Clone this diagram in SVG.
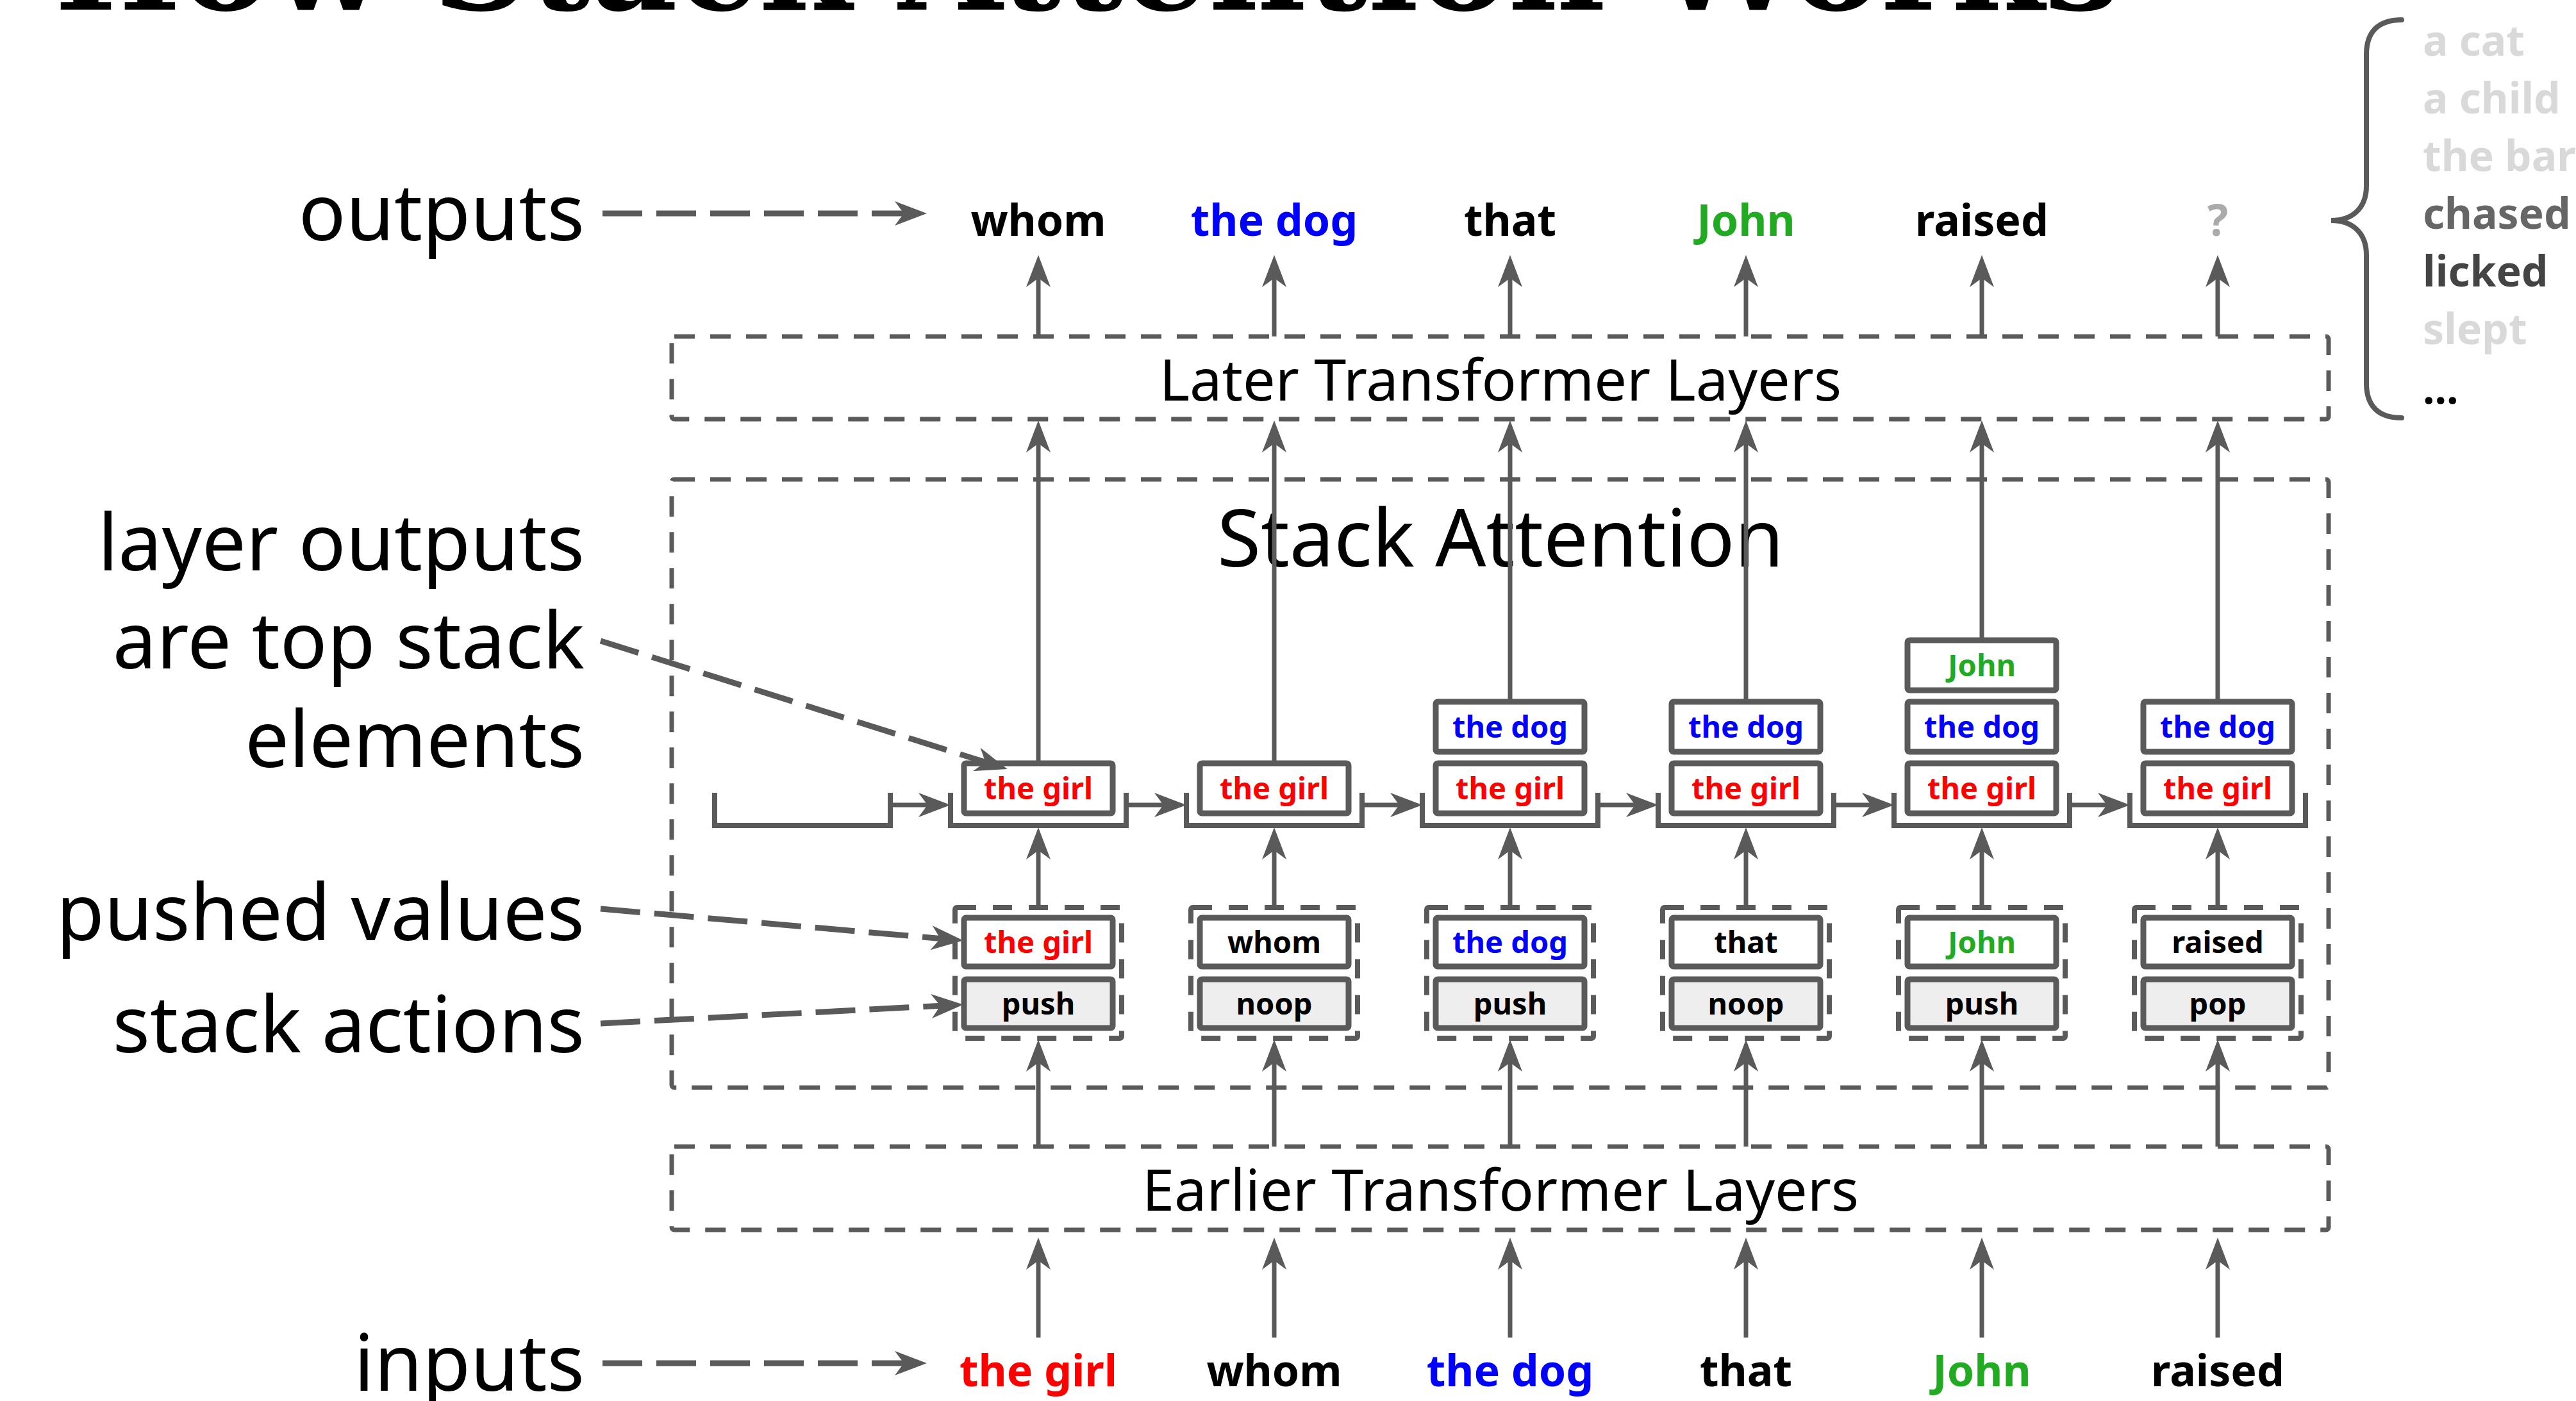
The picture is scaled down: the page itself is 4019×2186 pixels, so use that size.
<svg xmlns="http://www.w3.org/2000/svg" width="4019" height="2186" viewBox="0 0 4019 2186">
<style>
.bg{fill:#fff}
.box{fill:#fff;stroke:#5a5a5a;stroke-width:9}
.act{fill:#eeeeee;stroke:#5a5a5a;stroke-width:9}
.t{font-family:"Noto Sans","DejaVu Sans",sans-serif;font-weight:700;font-size:47px;text-anchor:middle;fill:#000}
.io{font-family:"Noto Sans","DejaVu Sans",sans-serif;font-weight:700;font-size:68px;text-anchor:middle;fill:#000}
.red{fill:#ff0000}.blue{fill:#0000ff}.green{fill:#22aa22}.q{fill:#aaaaaa}
.lbl{font-family:"Noto Sans","DejaVu Sans",sans-serif;font-size:122px;text-anchor:end;fill:#000}
.big{font-family:"Noto Sans","DejaVu Sans",sans-serif;font-size:90px;text-anchor:middle;fill:#000}
.conn{stroke:#5a5a5a;stroke-width:7;fill:none}
.brk{stroke:#5a5a5a;stroke-width:8;fill:none}
.ann{stroke:#5a5a5a;stroke-width:9;fill:none;stroke-dasharray:62 22}
.dbox{fill:none;stroke:#5a5a5a;stroke-width:7;stroke-dasharray:32 24}
.gbox{fill:none;stroke:#5a5a5a;stroke-width:8;stroke-dasharray:30 26}
.alt{font-family:"Noto Sans","DejaVu Sans",sans-serif;font-weight:700;font-size:66px}
</style>
<defs>
<marker id="ah" markerUnits="userSpaceOnUse" viewBox="-25 -25 60 50" markerWidth="60" markerHeight="50" refX="0" refY="0" orient="auto">
<path d="M30,0 L-20,-19 L-6,0 L-20,19 Z" fill="#5a5a5a"/>
</marker>
</defs>
<rect class="bg" x="0" y="0" width="4019" height="2186"/>

<g id="title">
<text x="85" y="15" font-family="'DejaVu Serif',serif" font-weight="900" font-size="200" textLength="3222" lengthAdjust="spacingAndGlyphs" fill="#000">How Stack Attention Works</text>
</g>

<g id="later-layers">
<rect class="dbox" x="1048" y="525" width="2585" height="129" rx="4"/>
<text class="big" x="2341" y="625">Later Transformer Layers</text>
</g>
<g id="stack-attention">
<rect class="dbox" x="1048" y="748" width="2585" height="949" rx="4"/>
<text class="big" x="2341" y="884" style="font-size:124px">Stack Attention</text>
</g>
<g id="earlier-layers">
<rect class="dbox" x="1048" y="1789" width="2585" height="130" rx="4"/>
<text class="big" x="2341" y="1889">Earlier Transformer Layers</text>
</g>

<g id="labels">
<text class="lbl" x="912" y="375">outputs</text>
<text class="lbl" x="912" y="890">layer outputs</text>
<text class="lbl" x="912" y="1043">are top stack</text>
<text class="lbl" x="912" y="1197">elements</text>
<text class="lbl" x="912" y="1467">pushed values</text>
<text class="lbl" x="912" y="1642">stack actions</text>
<text class="lbl" x="912" y="2170">inputs</text>
</g>

<g id="outputs">
<text class="io" x="1620" y="368">whom</text>
<text class="io blue" x="1988" y="368">the dog</text>
<text class="io" x="2356" y="368">that</text>
<text class="io green" x="2724" y="368">John</text>
<text class="io" x="3092" y="368">raised</text>
<text class="io q" x="3460" y="368">?</text>
</g>

<g id="inputs">
<text class="io red" x="1620" y="2163">the girl</text>
<text class="io" x="1988" y="2163">whom</text>
<text class="io blue" x="2356" y="2163">the dog</text>
<text class="io" x="2724" y="2163">that</text>
<text class="io green" x="3092" y="2163">John</text>
<text class="io" x="3460" y="2163">raised</text>
</g>

<g id="alternatives">
<path d="M3747,31 C3710,31 3692,50 3692,85 V290 C3692,325 3670,344 3637,344 C3670,344 3692,363 3692,398 V598 C3692,633 3710,652 3747,652" fill="none" stroke="#5a5a5a" stroke-width="8" stroke-linecap="round"/>
<text class="alt" x="3780" y="87" fill="#d9d9d9">a cat</text>
<text class="alt" x="3780" y="177" fill="#d9d9d9">a child</text>
<text class="alt" x="3780" y="267" fill="#d9d9d9">the barber</text>
<text class="alt" x="3780" y="357" fill="#666666">chased</text>
<text class="alt" x="3780" y="447" fill="#444444">licked</text>
<text class="alt" x="3780" y="537" fill="#d9d9d9">slept</text>
<text class="alt" x="3780" y="630" fill="#000000">...</text>
</g>

<g id="stack0">
<path class="brk" d="M1115,1237 V1288 H1389 V1237"/>
</g>

<g id="stack1">
<path class="brk" d="M1483,1237 V1288 H1757 V1237"/>
<rect class="box" x="1504" y="1191" width="232" height="78" rx="3"/>
<text class="t red" x="1620" y="1247">the girl</text>
</g>
<g id="stack2">
<path class="brk" d="M1851,1237 V1288 H2125 V1237"/>
<rect class="box" x="1872" y="1191" width="232" height="78" rx="3"/>
<text class="t red" x="1988" y="1247">the girl</text>
</g>
<g id="stack3">
<path class="brk" d="M2219,1237 V1288 H2493 V1237"/>
<rect class="box" x="2240" y="1095" width="232" height="78" rx="3"/>
<text class="t blue" x="2356" y="1151">the dog</text>
<rect class="box" x="2240" y="1191" width="232" height="78" rx="3"/>
<text class="t red" x="2356" y="1247">the girl</text>
</g>
<g id="stack4">
<path class="brk" d="M2587,1237 V1288 H2861 V1237"/>
<rect class="box" x="2608" y="1095" width="232" height="78" rx="3"/>
<text class="t blue" x="2724" y="1151">the dog</text>
<rect class="box" x="2608" y="1191" width="232" height="78" rx="3"/>
<text class="t red" x="2724" y="1247">the girl</text>
</g>
<g id="stack5">
<path class="brk" d="M2955,1237 V1288 H3229 V1237"/>
<rect class="box" x="2976" y="999" width="232" height="78" rx="3"/>
<text class="t green" x="3092" y="1055">John</text>
<rect class="box" x="2976" y="1095" width="232" height="78" rx="3"/>
<text class="t blue" x="3092" y="1151">the dog</text>
<rect class="box" x="2976" y="1191" width="232" height="78" rx="3"/>
<text class="t red" x="3092" y="1247">the girl</text>
</g>
<g id="stack6">
<path class="brk" d="M3323,1237 V1288 H3597 V1237"/>
<rect class="box" x="3344" y="1095" width="232" height="78" rx="3"/>
<text class="t blue" x="3460" y="1151">the dog</text>
<rect class="box" x="3344" y="1191" width="232" height="78" rx="3"/>
<text class="t red" x="3460" y="1247">the girl</text>
</g>

<g id="action1">
<rect class="gbox" x="1490" y="1416" width="260" height="204" rx="3"/>
<rect class="box" x="1504" y="1432" width="232" height="76" rx="3"/>
<text class="t red" x="1620" y="1487">the girl</text>
<rect class="act" x="1504" y="1528" width="232" height="76" rx="3"/>
<text class="t" x="1620" y="1583">push</text>
</g>
<g id="action2">
<rect class="gbox" x="1858" y="1416" width="260" height="204" rx="3"/>
<rect class="box" x="1872" y="1432" width="232" height="76" rx="3"/>
<text class="t" x="1988" y="1487">whom</text>
<rect class="act" x="1872" y="1528" width="232" height="76" rx="3"/>
<text class="t" x="1988" y="1583">noop</text>
</g>
<g id="action3">
<rect class="gbox" x="2226" y="1416" width="260" height="204" rx="3"/>
<rect class="box" x="2240" y="1432" width="232" height="76" rx="3"/>
<text class="t blue" x="2356" y="1487">the dog</text>
<rect class="act" x="2240" y="1528" width="232" height="76" rx="3"/>
<text class="t" x="2356" y="1583">push</text>
</g>
<g id="action4">
<rect class="gbox" x="2594" y="1416" width="260" height="204" rx="3"/>
<rect class="box" x="2608" y="1432" width="232" height="76" rx="3"/>
<text class="t" x="2724" y="1487">that</text>
<rect class="act" x="2608" y="1528" width="232" height="76" rx="3"/>
<text class="t" x="2724" y="1583">noop</text>
</g>
<g id="action5">
<rect class="gbox" x="2962" y="1416" width="260" height="204" rx="3"/>
<rect class="box" x="2976" y="1432" width="232" height="76" rx="3"/>
<text class="t green" x="3092" y="1487">John</text>
<rect class="act" x="2976" y="1528" width="232" height="76" rx="3"/>
<text class="t" x="3092" y="1583">push</text>
</g>
<g id="action6">
<rect class="gbox" x="3330" y="1416" width="260" height="204" rx="3"/>
<rect class="box" x="3344" y="1432" width="232" height="76" rx="3"/>
<text class="t" x="3460" y="1487">raised</text>
<rect class="act" x="3344" y="1528" width="232" height="76" rx="3"/>
<text class="t" x="3460" y="1583">pop</text>
</g>

<g id="connectors">
<line class="conn" x1="1620" y1="2087" x2="1620" y2="1961" marker-end="url(#ah)"/>
<line class="conn" x1="1988" y1="2087" x2="1988" y2="1961" marker-end="url(#ah)"/>
<line class="conn" x1="2356" y1="2087" x2="2356" y2="1961" marker-end="url(#ah)"/>
<line class="conn" x1="2724" y1="2087" x2="2724" y2="1961" marker-end="url(#ah)"/>
<line class="conn" x1="3092" y1="2087" x2="3092" y2="1961" marker-end="url(#ah)"/>
<line class="conn" x1="3460" y1="2087" x2="3460" y2="1961" marker-end="url(#ah)"/>
<line class="conn" x1="1620" y1="1789" x2="1620" y2="1652" marker-end="url(#ah)"/>
<line class="conn" x1="1988" y1="1789" x2="1988" y2="1652" marker-end="url(#ah)"/>
<line class="conn" x1="2356" y1="1789" x2="2356" y2="1652" marker-end="url(#ah)"/>
<line class="conn" x1="2724" y1="1789" x2="2724" y2="1652" marker-end="url(#ah)"/>
<line class="conn" x1="3092" y1="1789" x2="3092" y2="1652" marker-end="url(#ah)"/>
<line class="conn" x1="3460" y1="1789" x2="3460" y2="1652" marker-end="url(#ah)"/>
<line class="conn" x1="1620" y1="1416" x2="1620" y2="1321" marker-end="url(#ah)"/>
<line class="conn" x1="1988" y1="1416" x2="1988" y2="1321" marker-end="url(#ah)"/>
<line class="conn" x1="2356" y1="1416" x2="2356" y2="1321" marker-end="url(#ah)"/>
<line class="conn" x1="2724" y1="1416" x2="2724" y2="1321" marker-end="url(#ah)"/>
<line class="conn" x1="3092" y1="1416" x2="3092" y2="1321" marker-end="url(#ah)"/>
<line class="conn" x1="3460" y1="1416" x2="3460" y2="1321" marker-end="url(#ah)"/>
<line class="conn" x1="1389" y1="1256" x2="1453" y2="1256" marker-end="url(#ah)"/>
<line class="conn" x1="1757" y1="1256" x2="1821" y2="1256" marker-end="url(#ah)"/>
<line class="conn" x1="2125" y1="1256" x2="2189" y2="1256" marker-end="url(#ah)"/>
<line class="conn" x1="2493" y1="1256" x2="2557" y2="1256" marker-end="url(#ah)"/>
<line class="conn" x1="2861" y1="1256" x2="2925" y2="1256" marker-end="url(#ah)"/>
<line class="conn" x1="3229" y1="1256" x2="3293" y2="1256" marker-end="url(#ah)"/>
<line class="conn" x1="1620" y1="1191" x2="1620" y2="686" marker-end="url(#ah)"/>
<line class="conn" x1="1988" y1="1191" x2="1988" y2="686" marker-end="url(#ah)"/>
<line class="conn" x1="2356" y1="1095" x2="2356" y2="686" marker-end="url(#ah)"/>
<line class="conn" x1="2724" y1="1095" x2="2724" y2="686" marker-end="url(#ah)"/>
<line class="conn" x1="3092" y1="999" x2="3092" y2="686" marker-end="url(#ah)"/>
<line class="conn" x1="3460" y1="1095" x2="3460" y2="686" marker-end="url(#ah)"/>
<line class="conn" x1="1620" y1="525" x2="1620" y2="428" marker-end="url(#ah)"/>
<line class="conn" x1="1988" y1="525" x2="1988" y2="428" marker-end="url(#ah)"/>
<line class="conn" x1="2356" y1="525" x2="2356" y2="428" marker-end="url(#ah)"/>
<line class="conn" x1="2724" y1="525" x2="2724" y2="428" marker-end="url(#ah)"/>
<line class="conn" x1="3092" y1="525" x2="3092" y2="428" marker-end="url(#ah)"/>
<line class="conn" x1="3460" y1="525" x2="3460" y2="428" marker-end="url(#ah)"/>
<line class="ann" x1="940" y1="333" x2="1416" y2="333" marker-end="url(#ah)"/>
<line class="ann" x1="940" y1="2127" x2="1416" y2="2127" marker-end="url(#ah)"/>
<line class="ann" x1="937" y1="1000" x2="1543" y2="1191" marker-end="url(#ah)"/>
<line class="ann" x1="937" y1="1418" x2="1473" y2="1465" marker-end="url(#ah)"/>
<line class="ann" x1="937" y1="1597" x2="1473" y2="1569" marker-end="url(#ah)"/>
</g>
</svg>
